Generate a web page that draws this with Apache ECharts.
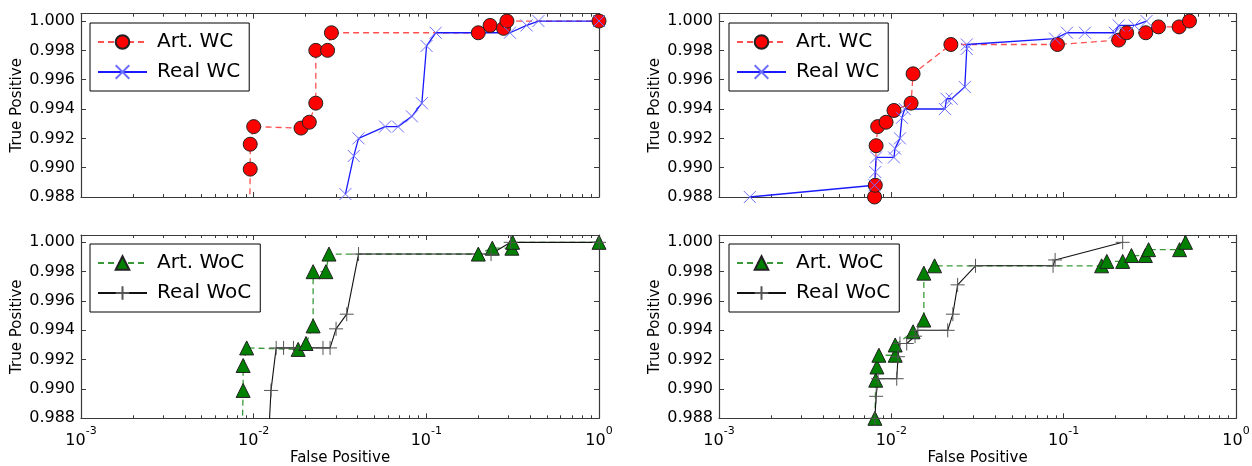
<!DOCTYPE html>
<html>
<head>
<meta charset="utf-8">
<script src="https://cdn.jsdelivr.net/npm/echarts@6/dist/echarts.min.js"></script>
<style>
  html, body { margin: 0; padding: 0; background: #fff; }
  #chart { width: 1252px; height: 466px; }
</style>
</head>
<body>
<div id="chart"></div>
<script>
// ROC points as [false positive rate, true positive rate]

// with-cluster detectors, first run
const artWcLeft = [
  [0.0095, 0.9875], [0.00955, 0.9899], [0.00955, 0.9916], [0.0100, 0.9928],
  [0.0188, 0.9927], [0.0210, 0.9931], [0.0229, 0.9944], [0.0229, 0.9980],
  [0.0268, 0.9980], [0.0282, 0.9992], [0.200, 0.9992], [0.234, 0.9997],
  [0.280, 0.9995], [0.293, 1.000], [1.0, 1.000]
];
const realWcLeft = [
  [0.0340, 0.9882], [0.0380, 0.9908], [0.0405, 0.9920], [0.0577, 0.9928],
  [0.0686, 0.9928], [0.0825, 0.9935], [0.0942, 0.9944], [0.1003, 0.9983],
  [0.1133, 0.9992], [0.305, 0.9992], [0.381, 0.9997], [0.446, 1.000],
  [1.0, 1.000]
];

// without-cluster detectors, first run
const artWocLeft = [
  [0.0086, 0.9875], [0.00869, 0.9899], [0.00869, 0.9916], [0.00911, 0.9928],
  [0.0181, 0.9927], [0.0201, 0.9931], [0.0221, 0.9943], [0.0221, 0.9980],
  [0.0262, 0.9980], [0.0273, 0.9992], [0.200, 0.9992], [0.241, 0.9996],
  [0.313, 0.9996], [0.316, 1.000], [1.0, 1.000]
];
const realWocLeft = [
  [0.0123, 0.9875], [0.0126, 0.9899], [0.0135, 0.9928], [0.0149, 0.9928],
  [0.0170, 0.9928], [0.0252, 0.9928], [0.0277, 0.9928], [0.0300, 0.9941],
  [0.0346, 0.9951], [0.0405, 0.9992], [0.237, 0.9992], [0.308, 1.000],
  [1.0, 1.000]
];

// with-cluster detectors, second run
const artWcRight = [
  [0.00799, 0.9880], [0.00807, 0.9888], [0.00816, 0.9915], [0.00833, 0.9928],
  [0.00932, 0.9931], [0.01036, 0.9939], [0.01302, 0.9944], [0.01337, 0.9964],
  [0.02216, 0.9984], [0.0920, 0.9984], [0.2086, 0.9987], [0.2320, 0.9992],
  [0.2995, 0.9992], [0.3549, 0.9996], [0.4677, 0.9996], [0.537, 1.000]
];
const realWcRight = [
  [0.00151, 0.9880], [0.00799, 0.9888], [0.00807, 0.9897], [0.00816, 0.9907],
  [0.01036, 0.9907], [0.0105, 0.9913], [0.01122, 0.9920], [0.01152, 0.9934],
  [0.01196, 0.9940], [0.02046, 0.9940], [0.0209, 0.9947], [0.0224, 0.9947],
  [0.02669, 0.9955], [0.0274, 0.9981], [0.0274, 0.9984], [0.0892, 0.9988],
  [0.1045, 0.9992], [0.1328, 0.9992], [0.1979, 0.9992], [0.2086, 0.9997],
  [0.258, 0.9997], [0.3027, 1.000]
];

// without-cluster detectors, second run
const artWocRight = [
  [0.00803, 0.9880], [0.00812, 0.9906], [0.00825, 0.9915], [0.00847, 0.9923],
  [0.01053, 0.9923], [0.01053, 0.9930], [0.01337, 0.9939], [0.01544, 0.9947],
  [0.01544, 0.9979], [0.01782, 0.9984], [0.166, 0.9984], [0.178, 0.9987],
  [0.220, 0.9987], [0.2473, 0.9991], [0.298, 0.9991], [0.311, 0.9995],
  [0.4706, 0.9995], [0.5095, 1.000]
];
const realWocRight = [
  [0.00803, 0.9880], [0.00816, 0.9895], [0.00838, 0.9907], [0.01075, 0.9907],
  [0.01093, 0.9922], [0.01122, 0.9931], [0.01228, 0.9931], [0.01373, 0.9936],
  [0.01426, 0.9940], [0.02124, 0.9940], [0.02275, 0.9951], [0.02425, 0.9971],
  [0.0308, 0.9984], [0.0868, 0.9984], [0.0892, 0.9988], [0.220, 1.000]
];

// axis ranges
const fpRange = [0.001, 1];
const tpRange = [0.988, 1.0005];
const tpStep = 0.002;

const FONT = 'DejaVu Sans';
const FRAME = '#3a3a3a';
const X_PATH = 'path://M0,0L10,10M10,0L0,10';
const PLUS_PATH = 'path://M5,0L5,10M0,5L10,5';

const grids = [
  { left: 81, top: 13.7, width: 518, height: 183.3 },
  { left: 81, top: 235, width: 518, height: 183.3 },
  { left: 719, top: 13.7, width: 517, height: 183.3 },
  { left: 719, top: 235, width: 517, height: 183.3 }
].map(g => Object.assign({ outerBoundsMode: 'none', containLabel: false }, g));

const xAxes = [];
const yAxes = [];
grids.forEach((g, gi) => {
  const isBottomRow = gi === 1 || gi === 3;
  ['bottom', 'top'].forEach(pos => {
    const main = pos === 'bottom';
    xAxes.push({
      gridIndex: gi, type: 'log', logBase: 10, position: pos,
      min: fpRange[0], max: fpRange[1],
      name: main && isBottomRow ? 'False Positive' : '',
      nameLocation: 'middle', nameGap: 28,
      nameTextStyle: { fontFamily: FONT, fontSize: 15, color: '#000' },
      axisLine: { show: true, onZero: false, lineStyle: { color: FRAME, width: 1.2 } },
      axisTick: { show: true, inside: true, length: 5, lineStyle: { color: FRAME } },
      minorTick: { show: true, splitNumber: 9, length: 3, lineStyle: { color: FRAME } },
      splitLine: { show: false },
      minorSplitLine: { show: false },
      axisLabel: {
        show: main && isBottomRow, margin: 7,
        formatter: v => '{b|10}{s|' + Math.round(Math.log10(v)) + '}',
        rich: {
          b: { fontFamily: FONT, fontSize: 16, color: '#000', lineHeight: 24, verticalAlign: 'bottom' },
          s: { fontFamily: FONT, fontSize: 11, color: '#000', lineHeight: 8, verticalAlign: 'top' }
        }
      }
    });
  });
  ['left', 'right'].forEach(pos => {
    const main = pos === 'left';
    yAxes.push({
      gridIndex: gi, type: 'value', position: pos,
      min: tpRange[0], max: tpRange[1], interval: tpStep,
      name: main ? 'True Positive' : '',
      nameLocation: 'middle', nameGap: 56,
      nameTextStyle: { fontFamily: FONT, fontSize: 15, color: '#000' },
      axisLine: { show: true, onZero: false, lineStyle: { color: FRAME, width: 1.2 } },
      axisTick: { show: true, inside: true, length: 5, lineStyle: { color: FRAME } },
      splitLine: { show: false },
      axisLabel: {
        show: main, margin: 6, fontFamily: FONT, fontSize: 16, color: '#000',
        formatter: v => {
          const k = (v - tpRange[0]) / tpStep;
          return Math.abs(k - Math.round(k)) < 1e-6 ? v.toFixed(3) : '';
        }
      }
    });
  });
});

const styles = {
  artWc: {
    symbol: 'circle', symbolSize: 14,
    itemStyle: { color: '#ff0000', borderColor: '#222', borderWidth: 1 },
    lineStyle: { color: '#ff5050', width: 1.3, type: [6, 4] }
  },
  realWc: {
    symbol: X_PATH, symbolSize: 12,
    itemStyle: { color: 'rgba(0,0,0,0)', borderColor: '#6f6fff', borderWidth: 1 },
    lineStyle: { color: '#1a1aff', width: 1.3, type: 'solid' }
  },
  artWoc: {
    symbol: 'triangle', symbolSize: 14,
    itemStyle: { color: '#008000', borderColor: '#222', borderWidth: 1 },
    lineStyle: { color: '#3a9a3a', width: 1.3, type: [6, 4] }
  },
  realWoc: {
    symbol: PLUS_PATH, symbolSize: 14,
    itemStyle: { color: 'rgba(0,0,0,0)', borderColor: '#555', borderWidth: 1 },
    lineStyle: { color: '#111', width: 1.1, type: 'solid' }
  }
};

function line(name, data, gi, style) {
  return Object.assign({
    name, type: 'line', data,
    xAxisIndex: gi * 2, yAxisIndex: gi * 2,
    showSymbol: true, clip: true, silent: true,
    emphasis: { disabled: true }, animation: false
  }, style);
}

const series = [
  line('Art. WC', artWcLeft, 0, styles.artWc),
  line('Real WC', realWcLeft, 0, styles.realWc),
  line('Art. WoC', artWocLeft, 1, styles.artWoc),
  line('Real WoC', realWocLeft, 1, styles.realWoc),
  line('Art. WC', artWcRight, 2, styles.artWc),
  line('Real WC', realWcRight, 2, styles.realWc),
  line('Art. WoC', artWocRight, 3, styles.artWoc),
  line('Real WoC', realWocRight, 3, styles.realWoc)
];

function legendBox(left, top, names) {
  return {
    left, top, orient: 'vertical', data: names, selectedMode: false,
    itemWidth: 49, itemHeight: 17, itemGap: 10,
    padding: [9, 9, 9, 7],
    borderColor: '#000', borderWidth: 1, backgroundColor: '#fff',
    textStyle: { fontFamily: FONT, fontSize: 20, color: '#000', lineHeight: 20, padding: [0, 0, 0, 5] }
  };
}

const chart = echarts.init(document.getElementById('chart'), null, { renderer: 'canvas' });
chart.setOption({
  backgroundColor: '#fff',
  animation: false,
  grid: grids,
  xAxis: xAxes,
  yAxis: yAxes,
  legend: [
    legendBox(90, 23, ['Art. WC', 'Real WC']),
    legendBox(90, 244, ['Art. WoC', 'Real WoC']),
    legendBox(729, 23, ['Art. WC', 'Real WC']),
    legendBox(729, 244, ['Art. WoC', 'Real WoC'])
  ],
  series
});
</script>
</body>
</html>
